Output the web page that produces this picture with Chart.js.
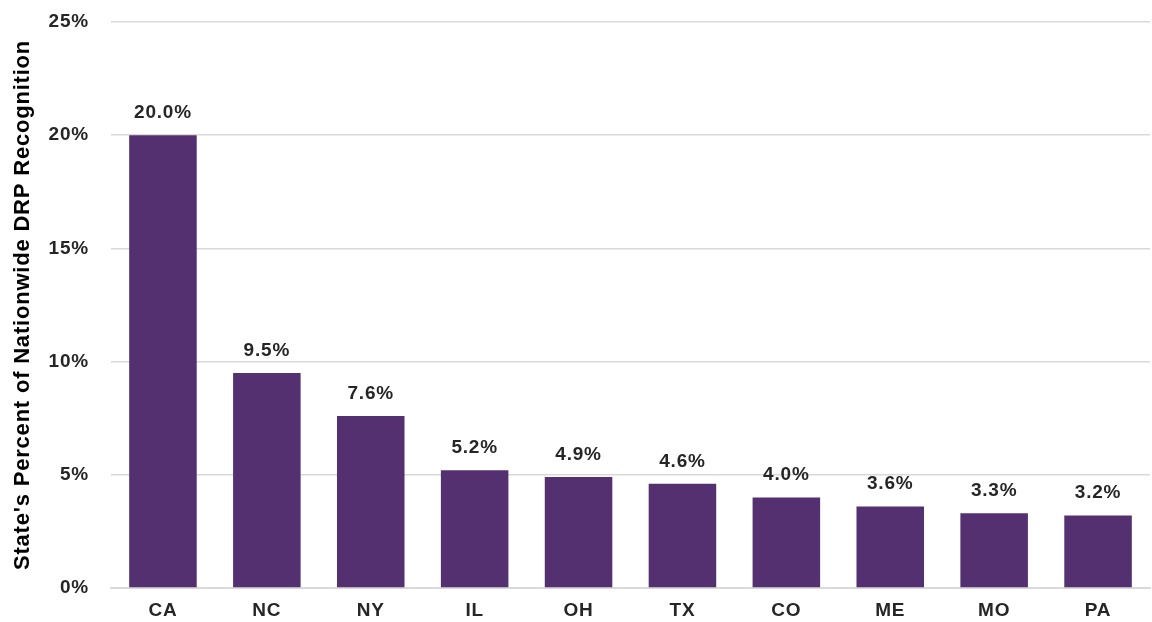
<!DOCTYPE html>
<html>
<head>
<meta charset="utf-8">
<script src="https://cdn.jsdelivr.net/npm/chart.js@4/dist/chart.umd.min.js"></script>
<style>
  html, body { margin: 0; padding: 0; background: #fff; }
  #wrap { width: 1152px; height: 622px; }
</style>
</head>
<body>
<div id="wrap"><canvas id="grafico"></canvas></div>
<script>
const estados = ['CA', 'NC', 'NY', 'IL', 'OH', 'TX', 'CO', 'ME', 'MO', 'PA'];
const porcentajes = [20.0, 9.5, 7.6, 5.2, 4.9, 4.6, 4.0, 3.6, 3.3, 3.2];
const tituloEjeY = "State's Percent of Nationwide DRP Recognition";

const fuente = '"Liberation Sans", Arial, sans-serif';

// el texto del original va algo espaciado
const espaciado = {
    id: 'espaciado',
    beforeLayout(chart) { chart.ctx.letterSpacing = '0.8px'; },
    beforeDraw(chart) { chart.ctx.letterSpacing = '0.8px'; }
};

// etiquetas encima de cada barra
const etiquetasBarras = {
    id: 'etiquetasBarras',
    afterDatasetsDraw(chart) {
        const ctx = chart.ctx;
        const meta = chart.getDatasetMeta(0);
        ctx.save();
        ctx.letterSpacing = '0.8px';
        ctx.font = 'bold 19px ' + fuente;
        ctx.fillStyle = '#262626';
        ctx.textAlign = 'center';
        ctx.textBaseline = 'bottom';
        meta.data.forEach((barra, i) => {
            ctx.fillText(porcentajes[i].toFixed(1) + '%', barra.x, barra.y - 13);
        });
        ctx.restore();
    }
};

new Chart(document.getElementById('grafico').getContext('2d'), {
    type: 'bar',
    data: {
        labels: estados,
        datasets: [{
            data: porcentajes,
            backgroundColor: '#543071',
            borderWidth: 0,
            barPercentage: 0.65,
            categoryPercentage: 1
        }]
    },
    options: {
        responsive: true,
        maintainAspectRatio: false,
        animation: false,
        layout: { padding: { top: 22, right: 2, left: 10, bottom: 0 } },
        plugins: {
            legend: { display: false },
            tooltip: { enabled: false }
        },
        scales: {
            x: {
                afterFit: s => { s.height = 34; },
                grid: { display: false, drawTicks: false },
                border: { color: '#d9d9d9', width: 2 },
                ticks: {
                    color: '#262626',
                    font: { family: fuente, size: 19, weight: 'bold' },
                    padding: 11
                }
            },
            y: {
                afterFit: s => {
                    s.width = 101;
                    s.paddingTop = 0;
                    s.paddingBottom = 0;
                },
                min: 0,
                max: 25,
                grid: { color: '#d9d9d9', lineWidth: 1.5, drawTicks: false },
                border: { display: false },
                ticks: {
                    stepSize: 5,
                    padding: 22,
                    color: '#262626',
                    font: { family: fuente, size: 19, weight: 'bold' },
                    callback: v => v + '%'
                },
                title: {
                    display: true,
                    text: tituloEjeY,
                    color: '#000',
                    font: { family: fuente, size: 22, weight: 'bold' },
                    padding: { top: 0, bottom: 0 }
                }
            }
        }
    },
    plugins: [espaciado, etiquetasBarras]
});
</script>
</body>
</html>
